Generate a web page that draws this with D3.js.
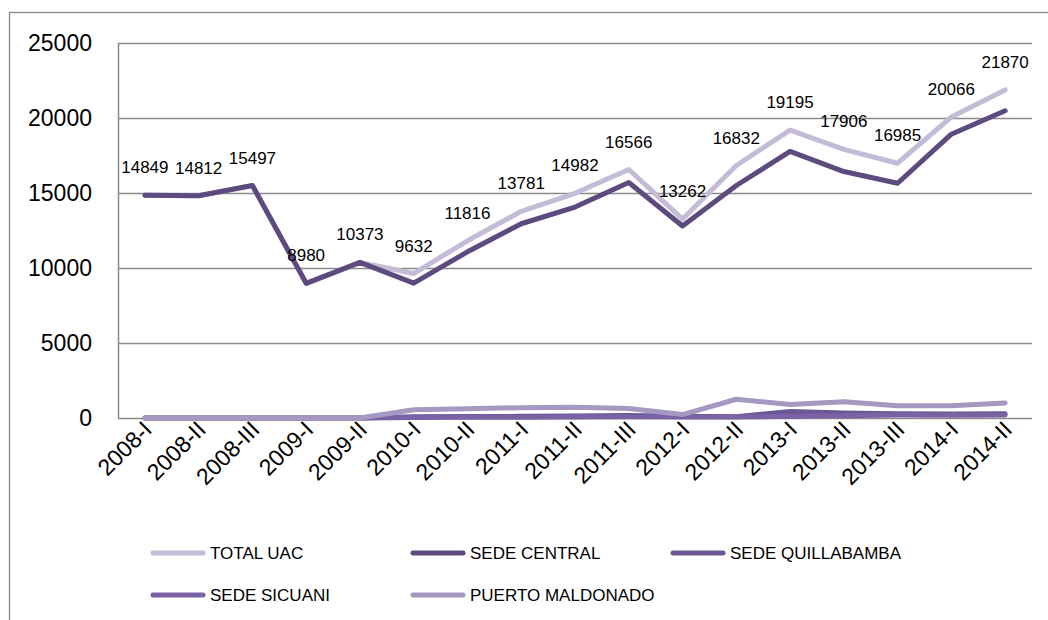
<!DOCTYPE html>
<html>
<head>
<meta charset="utf-8">
<script src="https://cdn.jsdelivr.net/npm/d3@7/dist/d3.min.js"></script>
<style>
  html, body { margin: 0; padding: 0; background: #fff; }
  svg { display: block; font-family: "Liberation Sans", Arial, sans-serif; }
</style>
</head>
<body>
<svg id="chart" width="1048" height="620"></svg>
<script>
const categories = ["2008-I","2008-II","2008-III","2009-I","2009-II","2010-I","2010-II","2011-I","2011-II","2011-III","2012-I","2012-II","2013-I","2013-II","2013-III","2014-I","2014-II"];
const totalUAC        = [14849,14812,15497,8980,10373,9632,11816,13781,14982,16566,13262,16832,19195,17906,16985,20066,21870];
const sedeCentral     = [14849,14812,15497,8980,10373,8990,11080,12950,14060,15700,12800,15500,17770,16430,15650,18920,20480];
const sedeQuillabamba = [0,0,0,0,0,90,100,110,130,160,120,80,430,330,290,260,280];
const sedeSicuani     = [0,0,0,0,0,40,50,50,60,80,70,60,120,150,200,190,200];
const puertoMaldonado = [0,0,0,0,0,550,620,690,720,640,230,1250,900,1080,820,820,1000];
const yTicks = [0,5000,10000,15000,20000,25000];

const seriesNames = ["TOTAL UAC","SEDE CENTRAL","SEDE QUILLABAMBA","SEDE SICUANI","PUERTO MALDONADO"];
const seriesValues = [totalUAC, sedeCentral, sedeQuillabamba, sedeSicuani, puertoMaldonado];
const colors = ["#c4bbd6","#5d4a7e","#6a5795","#7b62a5","#a598c1"];

const svg = d3.select("#chart");
const mLeft = 118, mRight = 1032, mTop = 43, mBottom = 418;

// outer border
svg.append("rect").attr("x", 9.5).attr("y", 12.5).attr("width", 1060).attr("height", 640)
  .attr("fill", "none").attr("stroke", "#8a8a8a").attr("stroke-width", 1.3);

const x = d3.scalePoint().domain(categories).range([mLeft, mRight]).padding(0.5);
const y = d3.scaleLinear().domain([0, 25000]).range([mBottom, mTop]);

// gridlines + y axis
const yAxis = d3.axisLeft(y).tickValues(yTicks).tickSize(-(mRight - mLeft)).tickSizeOuter(0).tickPadding(26)
  .tickFormat(d3.format("d"));
const gy = svg.append("g").attr("transform", `translate(${mLeft},0)`).call(yAxis);
gy.select(".domain").attr("stroke", "#8a8a8a").attr("stroke-width", 1.5);
gy.selectAll(".tick line").attr("stroke", "#8a8a8a").attr("stroke-width", 1.5);
gy.selectAll(".tick text").attr("font-size", 23).attr("fill", "#000")
  .attr("font-family", "Liberation Sans, Arial, sans-serif");

// x axis labels
const xAxis = d3.axisBottom(x).tickSize(0).tickSizeOuter(0);
const gx = svg.append("g").attr("transform", `translate(0,${mBottom})`).call(xAxis);
gx.select(".domain").remove();
gx.selectAll(".tick text")
  .attr("font-size", 23).attr("fill", "#000")
  .attr("font-family", "Liberation Sans, Arial, sans-serif")
  .attr("text-anchor", "end")
  .attr("dy", 0)
  .attr("y", 0)
  .attr("transform", "translate(8,13) rotate(-45)");

// lines
const line = d3.line().x((d, i) => x(categories[i])).y(d => y(d)).curve(d3.curveLinear);
seriesValues.forEach((vals, k) => {
  svg.append("path").datum(vals)
    .attr("d", line)
    .attr("fill", "none")
    .attr("stroke", colors[k])
    .attr("stroke-width", 5)
    .attr("stroke-linecap", "round")
    .attr("stroke-linejoin", "round");
});

// data labels for total
svg.append("g").selectAll("text").data(totalUAC).join("text")
  .attr("x", (d, i) => x(categories[i]))
  .attr("y", d => y(d) - 22)
  .attr("text-anchor", "middle")
  .attr("font-size", 17)
  .attr("fill", "#000")
  .text(d => d);

// legend
const legendPos = [[150,553],[410,553],[670,553],[150,595],[410,595]];
seriesNames.forEach((name, k) => {
  const [lx, ly] = legendPos[k];
  svg.append("line").attr("x1", lx + 3).attr("x2", lx + 53).attr("y1", ly).attr("y2", ly)
    .attr("stroke", colors[k]).attr("stroke-width", 5).attr("stroke-linecap", "round");
  svg.append("text").attr("x", lx + 60).attr("y", ly + 6).attr("font-size", 17).attr("fill", "#000").text(name);
});
</script>
</body>
</html>
